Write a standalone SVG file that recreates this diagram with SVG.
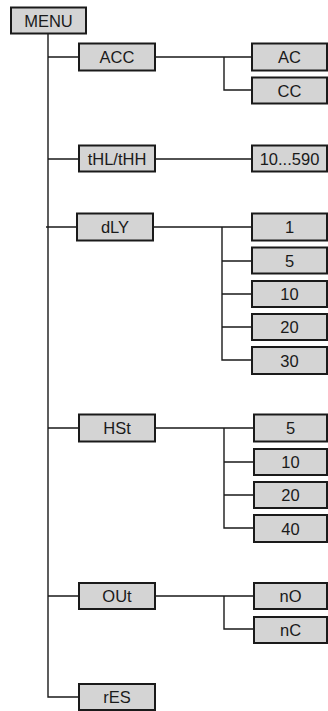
<svg xmlns="http://www.w3.org/2000/svg" width="328" height="711" viewBox="0 0 328 711">
<style>
.b{fill:#d4d4d4;stroke:#1a1a1a;stroke-width:2}
.t{font-family:"Liberation Sans",Arial,sans-serif;font-size:16.5px;fill:#1a1a1a;text-anchor:middle;dominant-baseline:central}
.c{fill:none;stroke:#1a1a1a;stroke-width:1.4}
</style>
<rect width="328" height="711" fill="#fff"/>
<g id="connectors" class="c">
<path d="M48,34V697H79"/>
<path d="M48,57H79M155,57H252M224,57V90H252"/>
<path d="M48,159H79M155,159H252"/>
<path d="M46,227H77M153,227H252M222,227V360H252M222,261H252M222,294H252M222,327H252"/>
<path d="M48,428H79M155,428H254M224,428V528H254M224,462H254M224,495H254"/>
<path d="M48,596H79M155,596H254M224,596V629H254"/>
</g>
<g id="MENU"><rect class="b" x="11" y="7.5" width="75" height="26"/><text class="t" x="48.5" y="21">MENU</text></g>
<g id="ACC"><rect class="b" x="79" y="43.5" width="76" height="27"/><text class="t" x="117" y="57">ACC</text></g>
<g id="AC"><rect class="b" x="252" y="43.5" width="75" height="27"/><text class="t" x="289.5" y="57">AC</text></g>
<g id="CC"><rect class="b" x="252" y="77.5" width="75" height="26"/><text class="t" x="289.5" y="90.5">CC</text></g>
<g id="tHL"><rect class="b" x="79" y="145.5" width="76" height="26"/><text class="t" x="117" y="158.5">tHL/tHH</text></g>
<g id="range"><rect class="b" x="252" y="145.5" width="75" height="26"/><text class="t" x="289.5" y="158.5">10...590</text></g>
<g id="dLY"><rect class="b" x="77" y="213.5" width="76" height="27"/><text class="t" x="115" y="227">dLY</text></g>
<g id="d1"><rect class="b" x="252" y="213.5" width="75" height="27"/><text class="t" x="289.5" y="227">1</text></g>
<g id="d5"><rect class="b" x="252" y="247.5" width="75" height="26"/><text class="t" x="289.5" y="260.5">5</text></g>
<g id="d10"><rect class="b" x="252" y="281" width="75" height="26"/><text class="t" x="289.5" y="294">10</text></g>
<g id="d20"><rect class="b" x="252" y="314" width="75" height="26"/><text class="t" x="289.5" y="327">20</text></g>
<g id="d30"><rect class="b" x="252" y="347" width="75" height="27"/><text class="t" x="289.5" y="360.5">30</text></g>
<g id="HSt"><rect class="b" x="79" y="414.5" width="76" height="27"/><text class="t" x="117" y="428">HSt</text></g>
<g id="h5"><rect class="b" x="254" y="414.5" width="73" height="27"/><text class="t" x="290.5" y="428">5</text></g>
<g id="h10"><rect class="b" x="254" y="449" width="73" height="26"/><text class="t" x="290.5" y="462">10</text></g>
<g id="h20"><rect class="b" x="254" y="482" width="73" height="26"/><text class="t" x="290.5" y="495">20</text></g>
<g id="h40"><rect class="b" x="254" y="515" width="73" height="27"/><text class="t" x="290.5" y="528.5">40</text></g>
<g id="OUt"><rect class="b" x="79" y="583" width="76" height="26"/><text class="t" x="117" y="596">OUt</text></g>
<g id="nO"><rect class="b" x="254" y="583" width="73" height="26"/><text class="t" x="290.5" y="596">nO</text></g>
<g id="nC"><rect class="b" x="254" y="617" width="73" height="26"/><text class="t" x="290.5" y="630">nC</text></g>
<g id="rES"><rect class="b" x="79" y="684" width="76" height="26"/><text class="t" x="117" y="697">rES</text></g>
</svg>
